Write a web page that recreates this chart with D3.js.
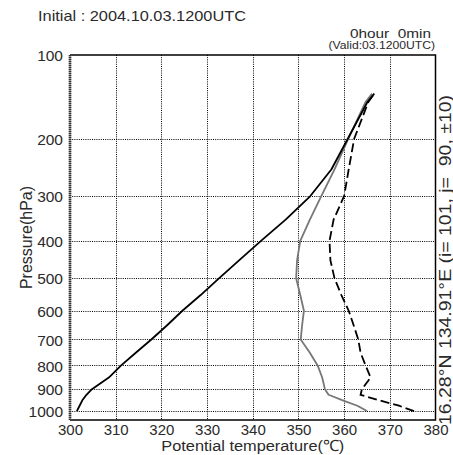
<!DOCTYPE html>
<html>
<head>
<meta charset="utf-8">
<script src="https://cdn.jsdelivr.net/npm/d3@7"></script>
<style>
  html, body { margin: 0; padding: 0; background: #fff; }
  svg { display: block; }
  text { font-family: "Liberation Sans", Arial, Helvetica, sans-serif; fill: #2a2a2a; white-space: pre; }
</style>
</head>
<body>
<div id="chart"></div>
<script>
// Vertical profile: pressure levels (hPa)
const pressureLevels = [1000, 975, 950, 925, 900, 850, 800, 750, 700, 650, 600, 550, 500, 450, 400, 350, 300, 250, 200, 150, 140];
// Potential temperature (solid black)
const theta = [301.5, 302.1, 302.7, 303.6, 304.8, 308.5, 311.2, 314.4, 317.8, 321.2, 324.6, 328.6, 332.6, 337.0, 341.8, 347.2, 352.6, 357.2, 360.8, 365.1, 366.6];
// Equivalent potential temperature (solid grey)
const thetaE = [365.0, 362.9, 359.7, 356.6, 355.8, 355.2, 354.2, 352.5, 350.5, 350.8, 351.2, 350.4, 349.5, 349.7, 350.4, 352.5, 355.0, 357.9, 360.9, 364.7, 366.1];
// Saturated equivalent potential temperature (dashed black)
const thetaES = [375.3, 372.0, 367.7, 363.6, 363.9, 365.8, 364.7, 363.6, 363.1, 362.1, 361.0, 359.4, 357.9, 357.0, 356.8, 357.7, 360.0, 361.0, 362.2, 365.3, 366.6];

// Axis ticks
const xTicks = [300, 310, 320, 330, 340, 350, 360, 370, 380];
const yTicks = [100, 200, 300, 400, 500, 600, 700, 800, 900, 1000];
const xDomain = [300, 380];
const pressureTop = 100;
const pressureBottom = 1043;
const kappa = 0.286;

// Labels
const titleText = "Initial : 2004.10.03.1200UTC";
const leadText = "0hour\u00a0\u00a00min";
const validText = "(Valid:03.1200UTC)";
const xTitle = "Potential temperature(\u2103)";
const yTitle = "Pressure(hPa)";
const locationText = "16.28\u00b0N 134.91\u00b0E (i= 101, j=\u00a0\u00a090, \u00b110)";

const W = 453, H = 455;
const plot = { left: 70, right: 435.5, top: 55, bottom: 420 };

const svg = d3.select("#chart").append("svg")
  .attr("width", W).attr("height", H);

svg.append("rect").attr("width", W).attr("height", H).attr("fill", "#fff");

const x = d3.scaleLinear().domain(xDomain).range([plot.left, plot.right]);
const y = d3.scalePow().exponent(kappa).domain([pressureTop, pressureBottom]).range([plot.top, plot.bottom]);

// Dotted grid
const grid = svg.append("g").attr("stroke", "#000").attr("stroke-width", 1).attr("stroke-dasharray", "1,1.2");
grid.selectAll("line.v").data(xTicks.filter(t => t > xDomain[0] && t < xDomain[1])).join("line")
  .attr("class", "v")
  .attr("x1", d => Math.round(x(d)) + 0.5).attr("x2", d => Math.round(x(d)) + 0.5)
  .attr("y1", plot.top).attr("y2", plot.bottom);
grid.selectAll("line.h").data(yTicks.filter(t => t > pressureTop)).join("line")
  .attr("class", "h")
  .attr("x1", plot.left).attr("x2", plot.right)
  .attr("y1", d => Math.round(y(d)) + 0.5).attr("y2", d => Math.round(y(d)) + 0.5);

// Frame: solid top/right/bottom, hatched left edge
const frame = svg.append("g").attr("stroke", "#000").attr("stroke-width", 1.5).attr("fill", "none");
frame.append("path").attr("d",
  `M${plot.left},${plot.top}H${plot.right}V${plot.bottom}H${plot.left}`);
svg.append("line").attr("x1", plot.left).attr("x2", plot.left)
  .attr("y1", plot.top).attr("y2", plot.bottom)
  .attr("stroke", "#999").attr("stroke-width", 2.5);
svg.append("line").attr("x1", plot.left).attr("x2", plot.left)
  .attr("y1", plot.top).attr("y2", plot.bottom)
  .attr("stroke", "#333").attr("stroke-width", 2.5).attr("stroke-dasharray", "1,1");

// Tick labels
const xAxis = d3.axisBottom(x).tickValues(xTicks).tickSize(0).tickPadding(0).tickFormat(d3.format("d"));
const gx = svg.append("g").attr("transform", `translate(0,${plot.bottom})`).call(xAxis);
gx.select(".domain").remove();
gx.selectAll("text").attr("y", 14.5).attr("dy", 0)
  .style("font-size", "15px").style("font-family", "'Liberation Sans', Arial, sans-serif").attr("fill", "#2a2a2a");

const yAxis = d3.axisLeft(y).tickValues(yTicks).tickSize(0).tickPadding(7).tickFormat(d3.format("d"));
const gy = svg.append("g").attr("transform", `translate(${plot.left},0)`).call(yAxis);
gy.select(".domain").remove();
gy.selectAll("text").attr("dy", "0.36em")
  .style("font-size", "15.5px").style("font-family", "'Liberation Sans', Arial, sans-serif").attr("fill", "#2a2a2a");

// Profiles
const profile = vals => d3.line()
  .x((d, i) => x(vals[i]))
  .y(d => y(d))(pressureLevels);

svg.append("path").attr("d", profile(thetaE))
  .attr("fill", "none").attr("stroke", "#777").attr("stroke-width", 1.8).attr("stroke-linejoin", "round");
svg.append("path").attr("d", profile(thetaES))
  .attr("fill", "none").attr("stroke", "#000").attr("stroke-width", 1.8).attr("stroke-dasharray", "9,4");
svg.append("path").attr("d", profile(theta))
  .attr("fill", "none").attr("stroke", "#000").attr("stroke-width", 1.8).attr("stroke-linejoin", "round");

// Titles
svg.append("text").attr("x", 38).attr("y", 21)
  .attr("textLength", 208).attr("lengthAdjust", "spacingAndGlyphs")
  .style("font-size", "15px").text(titleText);

svg.append("text").attr("x", 350).attr("y", 38)
  .attr("textLength", 81).attr("lengthAdjust", "spacingAndGlyphs")
  .style("font-size", "12.5px").text(leadText);

svg.append("text").attr("x", 328.5).attr("y", 49)
  .attr("textLength", 106.5).attr("lengthAdjust", "spacingAndGlyphs")
  .style("font-size", "10px").text(validText);

svg.append("text").attr("x", (plot.left + plot.right) / 2).attr("y", 451)
  .attr("text-anchor", "middle")
  .attr("textLength", 183).attr("lengthAdjust", "spacingAndGlyphs")
  .style("font-size", "15.5px").text(xTitle);

svg.append("text")
  .attr("transform", `translate(32,${(plot.top + plot.bottom) / 2}) rotate(-90)`)
  .attr("text-anchor", "middle")
  .style("font-size", "16px").text(yTitle);

svg.append("text")
  .attr("transform", `translate(451,425) rotate(-90)`)
  .attr("textLength", 330).attr("lengthAdjust", "spacingAndGlyphs")
  .style("font-size", "16.5px").text(locationText);
</script>
</body>
</html>
